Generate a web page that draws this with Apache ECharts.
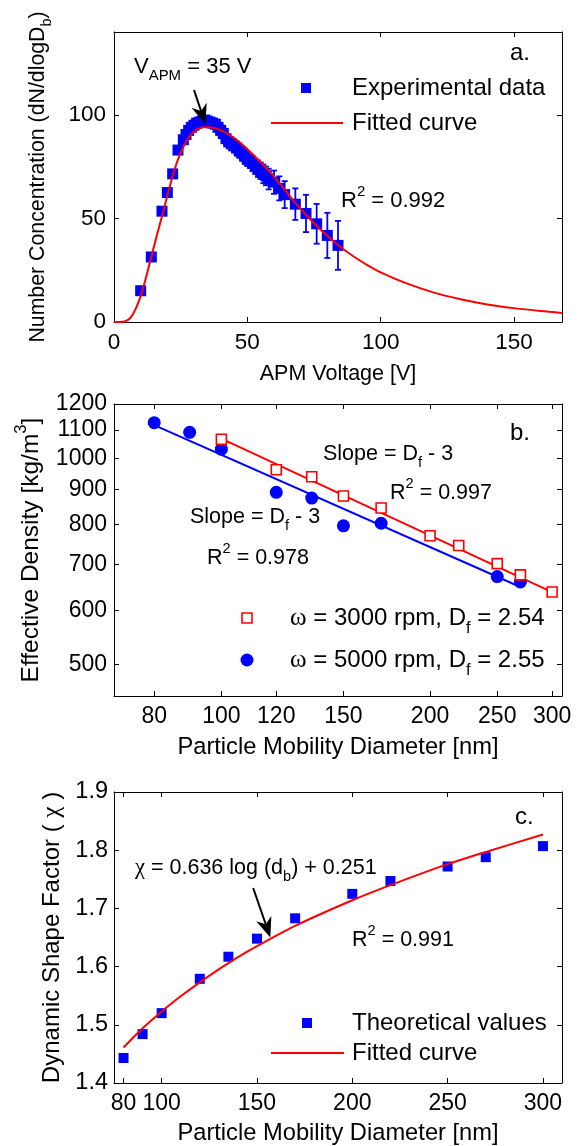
<!DOCTYPE html>
<html><head><meta charset="utf-8">
<script src="https://cdn.jsdelivr.net/npm/echarts@6/dist/echarts.min.js"></script>
<style>html,body{margin:0;padding:0;background:#fff}#c{width:579px;height:1146px}</style>
</head><body><div id="c"></div>
<script>
// ---------- Panel a data ----------
const voltA = [10,14,18,20,22,24,26,27,28,29,30,31,32,33,34,35,36,37,38,39,40,41,42,43,44,45,46,47,48,49,50,51,52,53,54,55,56,57,58,60,62,64,68,72,76,80,84];
const concA = [15.1,31.4,53.5,62.5,71.5,83,88,90.5,92.5,94,95,96,96.5,97,97.5,97,96.5,96,95.5,94,92.5,91,88.5,87,86,85,84,82.5,81.5,80,78.5,77.5,76.5,75,74,73,71.5,70.5,69,67.5,64.5,61.5,56.9,52.4,47.4,41.8,37];
const errA  = [1,1,1.5,1.5,1.5,1.5,1.5,1.5,1.5,1.5,1.5,1.5,1.5,1.5,1.5,1.5,1.5,1.5,2,2,2.5,2.5,2.5,2.5,3,3,3,3,3,3,3,3,3.5,3.5,4,4,4.5,4.5,5,5.6,5.8,6.5,7.6,9,9.6,10.9,11.8];
const fitVoltA = [0,2,4,6,8,10,12,14,16,18,20,22,24,26,28,30,32,34,36,38,40,44,48,52,56,60,64,68,72,76,80,84,90,95,100,110,120,130,140,150,160,168];
const fitConcA = [0,0,0.2,1.8,6,12.5,21.5,31.5,41.5,51,61,70.5,78.5,84.5,89,92,93.5,94,94,93.5,92.6,89.8,85.8,81,75.8,70.2,64,57.5,51.8,46.5,41.6,37.2,31.5,27.5,24,18.5,14.2,11,8.5,6.7,5.3,4.4];
const ticksAx = [0,50,100,150];
const ticksAy = [0,50,100];
const arrowA = [30,112,34.3,95.5];

// ---------- Panel b data ----------
const diamRed = [100,120,135,150,170,200,220,250,270,300];
const densRed = [1066,962,940,881,846,771,746,702,676,638];
const diamBlue = [80,90,100,120,135,150,170,250,270];
const densBlue = [1127,1091,1031,892,875,797,804,672,660];
const fitRedX = [100,300], fitRedY = [1068,638];
const fitBlueX = [80,270], fitBlueY = [1118,649];
const ticksBx = [80,100,120,150,200,250,300];
const ticksBy = [500,600,700,800,900,1000,1100,1200];

// ---------- Panel c data ----------
const diamC = [80,90,100,120,135,150,170,200,220,250,270,300];
const chiC = [1.443,1.484,1.520,1.579,1.617,1.648,1.683,1.725,1.747,1.772,1.788,1.807];
const fitDiamC = [80,90,100,110,120,135,150,170,200,220,250,270,300];
const fitChiC = [1.461,1.494,1.523,1.549,1.573,1.606,1.635,1.670,1.714,1.740,1.776,1.797,1.827];
const ticksCx = [80,100,150,200,250,300];
const ticksCy = [1.4,1.5,1.6,1.7,1.8,1.9];
const arrowC = [148,1.735,157,1.650];

const FONT = '"Liberation Sans", Arial, sans-serif';
const SERIF = '"Liberation Serif", "DejaVu Serif", serif';
const BLUE = '#0000ff', RED = '#ff0000';
const lg = Math.log10;

function rich(size) {
  const s = size * 0.68;
  return {
    n: {fontSize: size, fontFamily: FONT, color: '#000', fill: '#000', lineHeight: size * 1.5},
    sub: {fontSize: s, fontFamily: FONT, color: '#000', fill: '#000', lineHeight: s, verticalAlign: 'bottom'},
    sup: {fontSize: s, fontFamily: FONT, color: '#000', fill: '#000', lineHeight: s, verticalAlign: 'top'},
    g: {fontSize: size * 1.05, fontFamily: SERIF, color: '#000', fill: '#000', lineHeight: size * 1.5}
  };
}

function axis(gi, pos, min, max, ticks, showLabel, fmt, fs, margin) {
  return {
    type: 'value', gridIndex: gi, position: pos, min: min, max: max,
    axisLine: {show: true, onZero: false, lineStyle: {color: '#000', width: 1}},
    axisTick: {show: true, inside: true, length: 5, customValues: ticks, lineStyle: {color: '#000', width: 1}},
    axisLabel: {show: showLabel, customValues: ticks, formatter: fmt, color: '#000', fontFamily: FONT, fontSize: fs, margin: margin},
    splitLine: {show: false}
  };
}
function named(ax, name, gap, size) {
  ax.name = name; ax.nameLocation = 'middle'; ax.nameGap = gap;
  ax.nameTextStyle = {fontFamily: FONT, fontSize: size, color: '#000', rich: rich(size)};
  return ax;
}

const fmtInt = v => String(Math.round(v));
const fmtLog = v => String(Math.round(Math.pow(10, v)));
const fmt1 = v => v.toFixed(1);

const xAxes = [
  named(axis(0, 'bottom', 0, 168, ticksAx, true, fmtInt, 22.5, 9), 'APM Voltage [V]', 41, 21.5),
  axis(0, 'top', 0, 168, ticksAx, false, fmtInt, 22, 8),
  named(axis(1, 'bottom', lg(70), lg(310), ticksBx.map(lg), true, fmtLog, 23, 9), 'Particle Mobility Diameter [nm]', 39, 23.7),
  axis(1, 'top', lg(70), lg(310), ticksBx.map(lg), false, fmtLog, 22, 8),
  named(axis(2, 'bottom', 75, 310, ticksCx, true, fmtInt, 23, 9), 'Particle Mobility Diameter [nm]', 38, 23.7),
  axis(2, 'top', 75, 310, ticksCx, false, fmtInt, 22, 8)
];
const yAxes = [
  named(axis(0, 'left', 0, 140, ticksAy, true, fmtInt, 22.5, 8), '{n|Number Concentration (dN/dlogD}{sub|b}{n|)}', 60, 21.3),
  axis(0, 'right', 0, 140, ticksAy, false, fmtInt, 22, 8),
  named(axis(1, 'left', lg(450), lg(1200), ticksBy.map(lg), true, fmtLog, 23, 7), '{n|Effective Density [kg/m}{sup|3}{n|]}', 64, 24.5),
  axis(1, 'right', lg(450), lg(1200), ticksBy.map(lg), false, fmtLog, 22, 8),
  named(axis(2, 'left', 1.4, 1.9, ticksCy, true, fmt1, 23.5, 6), '{n|Dynamic Shape Factor ( }{g|χ}{n| )}', 44, 24),
  axis(2, 'right', 1.4, 1.9, ticksCy, false, fmt1, 22, 8)
];

function errRender(params, api) {
  const x = api.value(0), y = api.value(1), e = api.value(2);
  const p1 = api.coord([x, y + e]), p2 = api.coord([x, y - e]);
  const w = 3, st = {stroke: BLUE, lineWidth: 1.8};
  return {type: 'group', children: [
    {type: 'line', shape: {x1: p1[0], y1: p1[1], x2: p2[0], y2: p2[1]}, style: st},
    {type: 'line', shape: {x1: p1[0] - w, y1: p1[1], x2: p1[0] + w, y2: p1[1]}, style: st},
    {type: 'line', shape: {x1: p2[0] - w, y1: p2[1], x2: p2[0] + w, y2: p2[1]}, style: st}
  ]};
}
function arrowRender(params, api) {
  const a = api.coord([api.value(0), api.value(1)]);
  const b = api.coord([api.value(2), api.value(3)]);
  const dx = b[0] - a[0], dy = b[1] - a[1], L = Math.hypot(dx, dy), ux = dx / L, uy = dy / L;
  const hl = 20, hw = 8, notch = 6, nx = -uy, ny = ux;
  const base = [b[0] - ux * hl, b[1] - uy * hl];
  const inner = [b[0] - ux * (hl - notch), b[1] - uy * (hl - notch)];
  const left = [base[0] + nx * hw, base[1] + ny * hw], right = [base[0] - nx * hw, base[1] - ny * hw];
  return {type: 'group', children: [
    {type: 'line', shape: {x1: a[0], y1: a[1], x2: inner[0], y2: inner[1]}, style: {stroke: '#000', lineWidth: 2}},
    {type: 'polygon', shape: {points: [b, left, inner, right]}, style: {fill: '#000'}}
  ]};
}

const series = [
  // panel a
  {type: 'custom', xAxisIndex: 0, yAxisIndex: 0, renderItem: errRender, encode: {x: 0, y: 1}, z: 2, silent: true,
   data: voltA.map((v, i) => [v, concA[i], errA[i]])},
  {type: 'scatter', xAxisIndex: 0, yAxisIndex: 0, symbol: 'rect', symbolSize: 11, itemStyle: {color: BLUE, opacity: 1}, z: 3,
   data: voltA.map((v, i) => [v, concA[i]])},
  {type: 'line', xAxisIndex: 0, yAxisIndex: 0, showSymbol: false, symbol: 'none', smooth: 0.3, z: 4,
   lineStyle: {color: RED, width: 2}, data: fitVoltA.map((v, i) => [v, fitConcA[i]])},
  {type: 'custom', xAxisIndex: 0, yAxisIndex: 0, renderItem: arrowRender, encode: {x: [0, 2], y: [1, 3]}, z: 5, silent: true,
   data: [arrowA]},
  // panel b
  {type: 'line', xAxisIndex: 2, yAxisIndex: 2, showSymbol: false, symbol: 'none', z: 2,
   lineStyle: {color: RED, width: 2}, data: fitRedX.map((v, i) => [lg(v), lg(fitRedY[i])])},
  {type: 'line', xAxisIndex: 2, yAxisIndex: 2, showSymbol: false, symbol: 'none', z: 2,
   lineStyle: {color: BLUE, width: 2}, data: fitBlueX.map((v, i) => [lg(v), lg(fitBlueY[i])])},
  {type: 'scatter', xAxisIndex: 2, yAxisIndex: 2, symbol: 'circle', symbolSize: 13, itemStyle: {color: BLUE, opacity: 1}, z: 3,
   data: diamBlue.map((v, i) => [lg(v), lg(densBlue[i])])},
  {type: 'scatter', xAxisIndex: 2, yAxisIndex: 2, symbol: 'rect', symbolSize: 10, z: 4,
   itemStyle: {color: '#fff', borderColor: RED, borderWidth: 1.6, opacity: 1},
   data: diamRed.map((v, i) => [lg(v), lg(densRed[i])])},
  // panel c
  {type: 'scatter', xAxisIndex: 4, yAxisIndex: 4, symbol: 'rect', symbolSize: 10, itemStyle: {color: BLUE, opacity: 1}, z: 3,
   data: diamC.map((v, i) => [v, chiC[i]])},
  {type: 'line', xAxisIndex: 4, yAxisIndex: 4, showSymbol: false, symbol: 'none', smooth: 0.3, z: 4,
   lineStyle: {color: RED, width: 2}, data: fitDiamC.map((v, i) => [v, fitChiC[i]])},
  {type: 'custom', xAxisIndex: 4, yAxisIndex: 4, renderItem: arrowRender, encode: {x: [0, 2], y: [1, 3]}, z: 5, silent: true,
   data: [arrowC]}
];

function txt(x, y, text, size) {
  return {type: 'text', x: x, y: y, z: 100, silent: true,
    style: {text: text, fill: '#000', fontFamily: FONT, fontSize: size, align: 'left', verticalAlign: 'middle',
            textAlign: 'left', textVerticalAlign: 'middle', rich: rich(size)}};
}
function sq(cx, cy, s, fill, stroke) {
  return {type: 'rect', z: 100, silent: true, shape: {x: cx - s / 2, y: cy - s / 2, width: s, height: s},
    style: stroke ? {fill: fill, stroke: stroke, lineWidth: 1.6} : {fill: fill}};
}
function seg(x1, x2, y, color) {
  return {type: 'line', z: 100, silent: true, shape: {x1: x1, y1: y, x2: x2, y2: y}, style: {stroke: color, lineWidth: 2}};
}

const graphics = [
  // panel a
  txt(134, 67, '{n|V}{sub|APM}{n| = 35 V}', 22),
  txt(510, 53, '{n|a.}', 24),
  sq(306, 88, 10, BLUE), txt(352, 88, '{n|Experimental data}', 24),
  seg(271, 343, 123, RED), txt(352, 123, '{n|Fitted curve}', 24),
  txt(341, 201, '{n|R}{sup|2}{n| = 0.992}', 22),
  // panel b
  txt(510, 433, '{n|b.}', 24),
  txt(323, 454, '{n|Slope = D}{sub|f}{n| - 3}', 21.5),
  txt(390, 493, '{n|R}{sup|2}{n| = 0.997}', 21.5),
  txt(190, 517, '{n|Slope = D}{sub|f}{n| - 3}', 21.5),
  txt(207, 558, '{n|R}{sup|2}{n| = 0.978}', 21.5),
  sq(247, 618, 10, '#fff', RED), txt(290, 618, '{g|ω}{n| = 3000 rpm, D}{sub|f}{n| = 2.54}', 24),
  {type: 'circle', z: 100, silent: true, shape: {cx: 247, cy: 660, r: 6.5}, style: {fill: BLUE}},
  txt(290, 660, '{g|ω}{n| = 5000 rpm, D}{sub|f}{n| = 2.55}', 24),
  // panel c
  txt(515, 817, '{n|c.}', 24),
  txt(135, 868, '{g|χ}{n| = 0.636 log (d}{sub|b}{n|) + 0.251}', 21.5),
  txt(352, 940, '{n|R}{sup|2}{n| = 0.991}', 21.5),
  sq(307, 1023, 10, BLUE), txt(352, 1023, '{n|Theoretical values}', 24),
  seg(271, 344, 1053, RED), txt(352, 1053, '{n|Fitted curve}', 24)
];

const chart = echarts.init(document.getElementById('c'), null, {renderer: 'canvas', width: 579, height: 1146});
chart.setOption({
  animation: false,
  backgroundColor: '#fff',
  grid: [
    {left: 114, top: 32, width: 448, height: 290},
    {left: 114, top: 404, width: 448, height: 292},
    {left: 114, top: 792, width: 448, height: 291}
  ],
  xAxis: xAxes,
  yAxis: yAxes,
  series: series,
  graphic: graphics
});
</script></body></html>
